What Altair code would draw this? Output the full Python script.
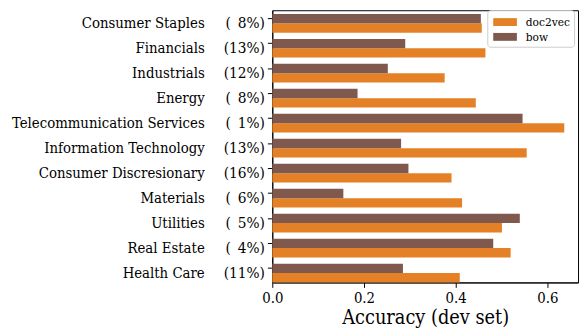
import altair as alt
import pandas as pd

categories = ["Consumer Staples", "Financials", "Industrials", "Energy",
              "Telecommunication Services", "Information Technology",
              "Consumer Discresionary", "Materials", "Utilities",
              "Real Estate", "Health Care"]
shares = [8, 13, 12, 8, 1, 13, 16, 6, 5, 4, 11]
doc2vec = [0.457, 0.465, 0.376, 0.444, 0.637, 0.555, 0.391, 0.414, 0.501, 0.520, 0.409]
bow = [0.455, 0.290, 0.252, 0.186, 0.546, 0.281, 0.297, 0.155, 0.540, 0.482, 0.285]
models = ["doc2vec", "bow"]
colors = ["#E48025", "#80594E"]

share_labels = [("(\u2002%d%%)" % s) if s < 10 else ("(%d%%)" % s) for s in shares]

rows = []
for i, c in enumerate(categories):
    rows.append({"category": c, "model": "doc2vec", "value": doc2vec[i]})
    rows.append({"category": c, "model": "bow", "value": bow[i]})
df = pd.DataFrame(rows)

FONT = "DejaVu Serif Condensed, DejaVu Serif"

cat_js = "[" + ",".join("'%s'" % c for c in categories) + "]"
lab_js = "[" + ",".join("'%s'" % s for s in share_labels) + "]"
pct_expr = lab_js + "[indexof(" + cat_js + ", datum.value)]"

yscale = alt.Scale(paddingInner=0.25, paddingOuter=0.073, align=1)

xaxis = alt.Axis(values=[0, 0.2, 0.4, 0.6], format=".1f",
                 title="Accuracy (dev set)", grid=False, labelFlush=False,
                 labelFont=FONT, labelFontSize=15, labelColor="black",
                 labelPadding=3, tickSize=5, tickColor="black",
                 domainColor="black", titleFont=FONT, titleFontSize=20,
                 titleFontWeight="normal", titleColor="black",
                 titlePadding=3)
xscale = alt.Scale(domain=[0, 0.667], nice=False)

bars = alt.Chart(df).mark_bar().encode(
    x=alt.X("value:Q", scale=xscale, axis=xaxis),
    y=alt.Y("category:N", sort=categories, scale=yscale,
            axis=alt.Axis(orient="left", title=None, labelExpr=pct_expr,
                          bandPosition=0.25, tickSize=5, tickColor="black",
                          domainColor="black", labelFont=FONT, labelFontSize=15.5,
                          labelColor="black", labelPadding=3, grid=False,
                          labelLimit=0)),
    yOffset=alt.YOffset("model:N", sort=["bow", "doc2vec"]),
    color=alt.Color("model:N", scale=alt.Scale(domain=models, range=colors),
                    legend=alt.Legend(title=None, orient="none",
                                      legendX=218, legendY=0,
                                      fillColor="white", strokeColor="#cccccc",
                                      cornerRadius=3, padding=4,
                                      labelFont=FONT, labelFontSize=12,
                                      labelColor="black", labelOffset=13,
                                      symbolOffset=6,
                                      symbolType="M-1.5,-0.5H1.5V0.5H-1.5Z",
                                      symbolSize=256, symbolStrokeWidth=0,
                                      symbolOpacity=1, rowPadding=1)),
)

names = alt.Chart(df).mark_point(opacity=0).encode(
    x=alt.X("value:Q", scale=xscale, axis=xaxis),
    y=alt.Y("category:N", sort=categories, scale=yscale,
            axis=alt.Axis(orient="left", title=None, bandPosition=0.25,
                          tickSize=0, domain=False, labelFont=FONT,
                          labelFontSize=15, labelColor="black",
                          labelPadding=69, grid=False, labelLimit=0)),
)

chart = alt.layer(bars, names).resolve_axis(y="independent").properties(
    width=310, height=276,
    autosize=alt.AutoSizeParams(type="none"),
    padding={"left": 268, "top": 0, "right": 2, "bottom": 50},
).configure_view(stroke="black", strokeWidth=1)

chart.save("out.html", embed_options={"renderer": "svg", "actions": False})
